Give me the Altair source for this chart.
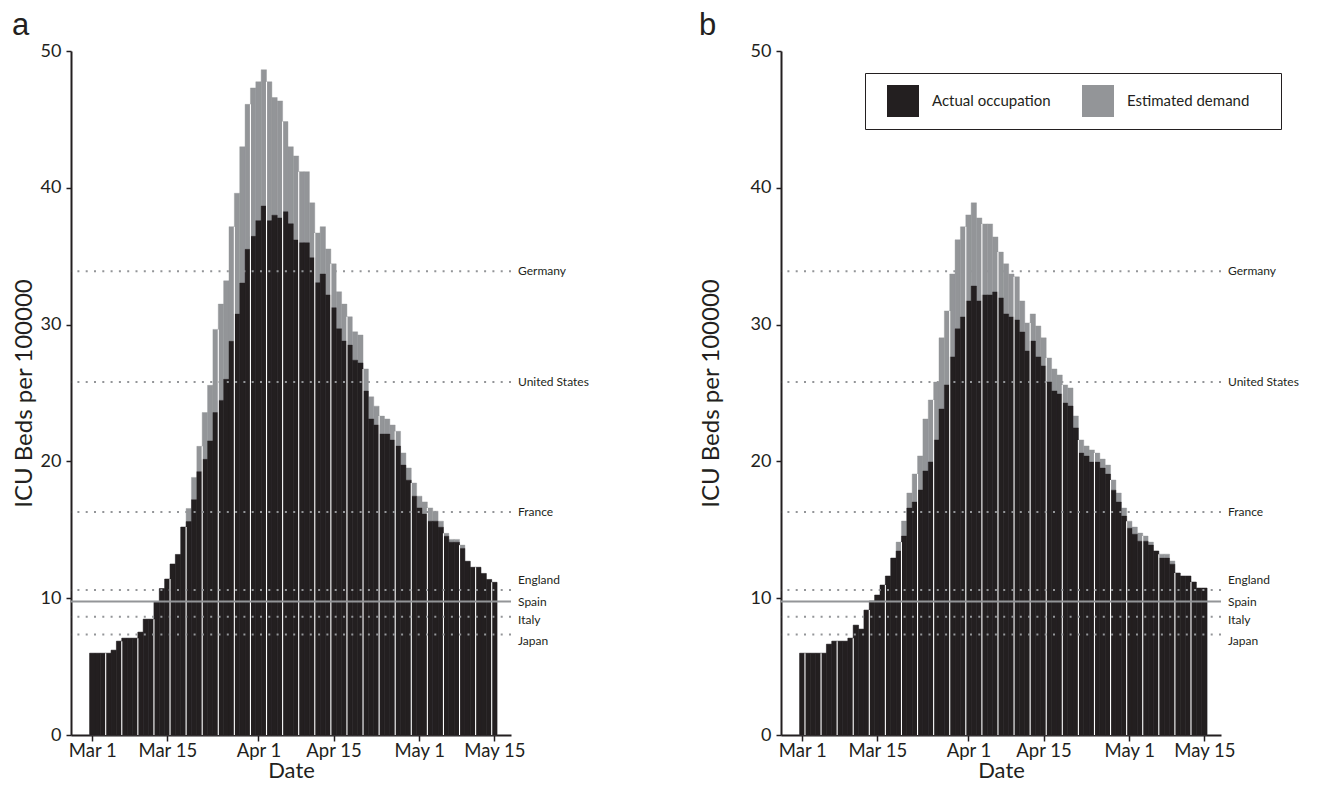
import altair as alt
import pandas as pd

# ---------------- data ----------------
TICK_DAYS = [0, 14, 31, 45, 61, 75]
TICK_LABELS = ["Mar 1", "Mar 15", "Apr 1", "Apr 15", "May 1", "May 15"]
SERIES = ["Actual occupation", "Estimated demand"]

ACTUAL_A = [5.98, 5.98, 5.98, 5.98, 6.2, 6.86, 7.08, 7.08, 7.08, 7.52,
            8.47, 8.47, 9.76, 10.7, 11.4, 12.5, 13.2, 15.2, 15.6, 17.2,
            19.25, 20.15, 21.5, 23.57, 24.46, 26.0, 28.78, 30.77, 33.04, 35.5,
            36.45, 37.6, 38.67, 37.6, 38.0, 37.8, 38.25, 37.37, 36.19, 35.98,
            35.98, 34.89, 33.06, 33.7, 32.17, 31.23, 29.69, 28.8, 28.5, 27.4,
            27.2, 25.14, 23.1, 22.66, 22.0, 22.0, 21.56, 21.12, 19.73, 18.63,
            17.46, 16.6, 16.15, 15.63, 15.63, 15.19, 14.53, 14.09, 14.09, 13.64,
            12.7, 12.26, 12.26, 11.81, 11.37, 11.16]
ESTIMATED_A = [5.98, 5.98, 5.98, 5.98, 6.2, 6.86, 7.08, 7.08, 7.08, 7.52,
               8.47, 8.47, 9.76, 10.7, 11.4, 12.5, 13.2, 15.2, 16.56, 18.83,
               21.1, 23.57, 25.56, 29.65, 31.5, 33.2, 37.16, 39.6, 43.0, 46.1,
               47.3, 47.75, 48.63, 47.75, 46.6, 46.35, 44.84, 43.0, 42.33, 41.18,
               41.18, 38.9, 36.7, 37.16, 35.53, 34.44, 32.4, 31.5, 30.57, 29.47,
               29.24, 26.76, 24.72, 24.04, 23.31, 23.1, 22.66, 22.2, 20.62, 19.52,
               18.42, 17.46, 17.04, 16.6, 16.36, 15.63, 14.74, 14.3, 14.3, 13.88,
               12.7, 12.26, 12.26, 11.81, 11.37, 11.16]

ACTUAL_B = [5.98, 5.98, 5.98, 5.98, 5.98, 6.64, 6.86, 6.86, 6.86, 7.08,
            8.03, 7.74, 9.13, 9.8, 10.23, 10.96, 11.62, 12.93, 13.45, 14.54,
            16.59, 17.03, 17.91, 19.3, 19.96, 21.57, 23.83, 25.59, 27.64, 29.69,
            30.56, 31.73, 32.82, 31.73, 32.17, 32.17, 32.39, 31.95, 30.78, 30.56,
            30.34, 29.46, 28.07, 28.8, 27.64, 26.98, 25.81, 25.15, 24.93, 24.27,
            24.05, 22.45, 20.61, 20.39, 19.95, 19.95, 19.51, 19.07, 17.9, 17.03,
            16.0, 15.12, 14.68, 14.17, 14.17, 13.88, 13.45, 12.93, 12.93, 12.49,
            11.84, 11.62, 11.62, 11.18, 10.74, 10.74]
ESTIMATED_B = [5.98, 5.98, 5.98, 5.98, 5.98, 6.64, 6.86, 6.86, 6.86, 7.08,
               8.03, 7.74, 9.13, 9.8, 10.23, 10.96, 11.62, 12.93, 14.1, 15.64,
               17.69, 19.08, 20.4, 23.1, 24.49, 25.8, 29.03, 31.0, 33.7, 36.2,
               37.15, 38.02, 38.9, 37.8, 37.36, 37.36, 36.41, 35.3, 34.44, 33.7,
               33.49, 31.73, 30.12, 30.78, 29.9, 29.03, 27.56, 26.76, 26.32, 25.59,
               25.37, 23.32, 21.57, 21.13, 20.84, 20.61, 20.17, 19.73, 18.64, 17.69,
               16.59, 15.63, 15.2, 14.76, 14.54, 14.1, 13.45, 13.22, 13.22, 12.72,
               11.84, 11.62, 11.62, 11.18, 10.74, 10.74]

COUNTRIES = ["Germany", "United States", "France", "England", "Spain", "Italy", "Japan"]
COUNTRY_BEDS = [33.9, 25.8, 16.3, 10.6, 9.75, 8.65, 7.35]

# ---------------- style ----------------
FONT = "Lato"
LETTER_FONT = "Liberation Sans"
BLACK = "#231f20"
GRAY = "#939598"
W, H = 440, 684
LABEL_NUDGE = {"England": -10, "Italy": 3, "Japan": 7}

xscale = alt.Scale(domain=[-3.97, 78.1], nice=False, zero=False)
yscale = alt.Scale(domain=[0, 50], nice=False)

label_expr = "{}[indexof({}, datum.value)]".format(
    "[" + ",".join("'%s'" % t for t in TICK_LABELS) + "]",
    "[" + ",".join(str(d) for d in TICK_DAYS) + "]")

xaxis = alt.Axis(values=TICK_DAYS, labelExpr=label_expr, grid=False,
                 domainColor=BLACK, domainWidth=2, tickColor=BLACK, tickWidth=1.5,
                 tickSize=6, labelFontSize=18.5, titleFontSize=22, labelFont=FONT,
                 titleFont=FONT, titleFontWeight="normal", labelColor=BLACK,
                 titleColor=BLACK, labelPadding=0, titlePadding=1)


def yaxis(title_pad):
    return alt.Axis(values=[0, 10, 20, 30, 40, 50], grid=False,
                    domainColor=BLACK, domainWidth=2, tickColor=BLACK, tickWidth=1.5,
                    tickSize=5, labelFontSize=18, titleFontSize=24, labelFont=FONT,
                    titleFont=FONT, titleFontWeight="normal", labelColor=BLACK,
                    titleColor=BLACK, labelPadding=5, titlePadding=title_pad)


ref_df = pd.DataFrame({"country": COUNTRIES, "beds": COUNTRY_BEDS})


def panel(actual, est, letter, sep_mod, legend, title_pad):
    ya = yaxis(title_pad)

    def X(field):
        return alt.X(field, scale=xscale, axis=xaxis, title="Date")

    def Y(field):
        return alt.Y(field, scale=yscale, axis=ya, title="ICU Beds per 100000")

    df = pd.DataFrame({"day": list(range(len(actual))), "actual": actual, "est": est})
    base = alt.Chart(df).transform_calculate(
        x0="datum.day - 0.5", x1="datum.day + 0.5", zero="0")
    color_scale = alt.Scale(domain=SERIES, range=[BLACK, GRAY])

    gray = base.transform_calculate(s="'Estimated demand'").mark_bar(
        stroke=GRAY, strokeWidth=0.4).encode(
        x=X("x0:Q"), x2="x1:Q", y=Y("est:Q"), y2="zero:Q",
        color=alt.Color("s:N", scale=color_scale, legend=legend))
    black = base.transform_calculate(s="'Actual occupation'").mark_bar(
        stroke=BLACK, strokeWidth=0.4).encode(
        x=X("x0:Q"), x2="x1:Q", y=Y("actual:Q"), y2="zero:Q",
        color=alt.Color("s:N", scale=color_scale, legend=legend))

    sep_filter = "datum.day % 3 == " + str(sep_mod) + " && datum.day < " + str(len(actual) - 1)
    seps = alt.Chart(df).transform_window(
        window=[{"op": "lead", "field": "est", "as": "next_est"}],
        sort=[{"field": "day"}]).transform_filter(sep_filter).transform_calculate(
        sep="datum.day + 0.5", top="min(datum.est, datum.next_est)", zero="0"
    ).mark_rule(color="white", strokeWidth=1.1).encode(
        x=X("sep:Q"), y=Y("zero:Q"), y2="top:Q")

    refs = alt.Chart(ref_df)
    dotted = refs.transform_filter("datum.country != 'Spain'").mark_rule(
        color=GRAY, strokeWidth=2, strokeDash=[2, 6.3]).encode(y=Y("beds:Q"))
    solid = refs.transform_filter("datum.country == 'Spain'").mark_rule(
        color=GRAY, strokeWidth=2).encode(y=Y("beds:Q"))

    layers = [gray, black, seps, dotted, solid]
    plain = [c for c in COUNTRIES if c not in LABEL_NUDGE]
    layers.append(refs.transform_filter(
        alt.FieldOneOfPredicate(field="country", oneOf=plain)).mark_text(
        align="left", baseline="middle", fontSize=12, font=FONT, color=BLACK).encode(
        x=alt.value(W + 7), y=Y("beds:Q"), text="country:N"))
    for c, dy in LABEL_NUDGE.items():
        layers.append(refs.transform_filter(
            alt.FieldEqualPredicate(field="country", equal=c)).mark_text(
            align="left", baseline="middle", fontSize=12, font=FONT, color=BLACK,
            dy=dy).encode(x=alt.value(W + 7), y=Y("beds:Q"), text="country:N"))

    return alt.layer(*layers).properties(
        width=W, height=H,
        title=alt.TitleParams(letter, anchor="start", fontSize=31, font=LETTER_FONT,
                              fontWeight="normal", color=BLACK, offset=0))


leg = alt.Legend(orient="none", legendX=84, legendY=22, direction="horizontal",
                 title=" ", titleOrient="right", titlePadding=20, titleFontSize=4,
                 symbolType="square", symbolSize=1024,
                 symbolStrokeWidth=0, symbolOpacity=1, labelFontSize=15,
                 labelFont=FONT, labelColor=BLACK, labelOffset=13,
                 columnPadding=21, padding=12, symbolOffset=10,
                 strokeColor=BLACK, fillColor="white")

pa = panel(ACTUAL_A, ESTIMATED_A, "a", 2, None, 4)
pb = panel(ACTUAL_B, ESTIMATED_B, "b", 0, leg, 27)

chart = alt.hconcat(pa, pb, spacing=110).resolve_scale(
    color="independent").resolve_legend(color="independent").properties(
    padding={"left": 4, "top": 2, "right": 5, "bottom": 0}).configure(
    font=FONT).configure_view(stroke=None)

chart.save("out.html", embed_options={"renderer": "svg", "actions": False})
